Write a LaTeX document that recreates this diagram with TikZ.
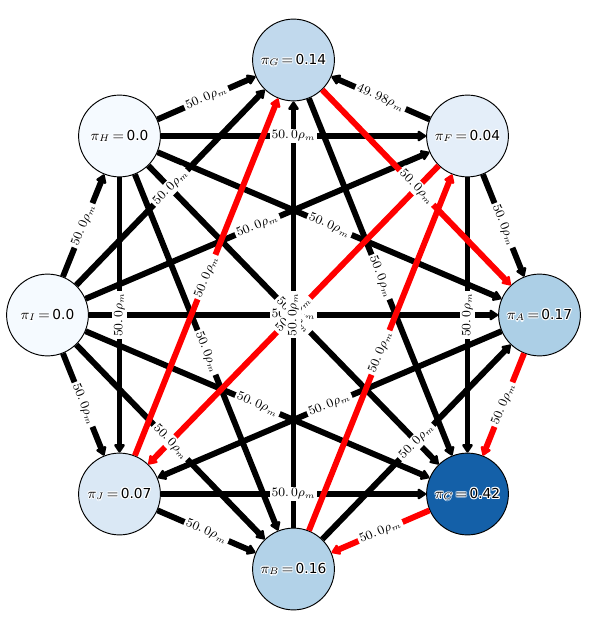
\documentclass[tikz,border=0pt]{standalone}
\usepackage{fontspec}
\setmainfont{DejaVu Sans}
\usetikzlibrary{arrows.meta}
\definecolor{pzero}{RGB}{245,250,255}
\definecolor{pF}{RGB}{228,238,249}
\definecolor{pJ}{RGB}{218,232,245}
\definecolor{pG}{RGB}{193,217,237}
\definecolor{pB}{RGB}{178,210,232}
\definecolor{pA}{RGB}{172,207,230}
\definecolor{pC}{RGB}{20,96,168}
% white outline round the node texts
\newcommand\halo[1]{%
\makebox[0pt][l]{\color{white}\hspace*{.7pt}#1}%
\makebox[0pt][l]{\color{white}\hspace*{-.7pt}#1}%
\makebox[0pt][l]{\color{white}\raisebox{.7pt}{#1}}%
\makebox[0pt][l]{\color{white}\raisebox{-.7pt}{#1}}%
\makebox[0pt][l]{\color{white}\hspace*{.5pt}\raisebox{.5pt}{#1}}%
\makebox[0pt][l]{\color{white}\hspace*{-.5pt}\raisebox{.5pt}{#1}}%
\makebox[0pt][l]{\color{white}\hspace*{.5pt}\raisebox{-.5pt}{#1}}%
\makebox[0pt][l]{\color{white}\hspace*{-.5pt}\raisebox{-.5pt}{#1}}%
#1}
\newcommand\rhol{$50.\,0\rho_m$}

\begin{document}
\begin{tikzpicture}[
x=0.022cm,y=-0.022cm,
pinode/.style={circle,draw=black,line width=0.6pt,minimum size=1.8cm,inner sep=0pt,
  font=\fontsize{8.6}{10}\selectfont},
blackedge/.style={line width=3.7pt,black,-{Triangle[length=6pt,width=7.5pt,round]}},
rededge/.style={blackedge,red},
rholabel/.style={fill=white,inner sep=1.2pt,sloped,midway,font=\fontsize{7.6}{9}\selectfont}
]
\useasboundingbox (0,0) rectangle (598,631);
\node[pinode,fill=pG] (G) at (293.5,60) {\halo{$\pi_G\,{=}\,$0.14}};
\node[pinode,fill=pF] (F) at (467.5,136) {\halo{$\pi_F\,{=}\,$0.04}};
\node[pinode,fill=pA] (A) at (539.5,315) {\halo{$\pi_A\,{=}\,$0.17}};
\node[pinode,fill=pC] (C) at (467.5,494) {\halo{$\pi_C\,{=}\,$0.42}};
\node[pinode,fill=pB] (B) at (293.5,569) {\halo{$\pi_B\,{=}\,$0.16}};
\node[pinode,fill=pJ] (J) at (119.5,494) {\halo{$\pi_J\,{=}\,$0.07}};
\node[pinode,fill=pzero] (I) at (47.5,315) {\halo{$\pi_I\,{=}\,$0.0}};
\node[pinode,fill=pzero] (H) at (119.5,136) {\halo{$\pi_H\,{=}\,$0.0}};

\foreach \s/\t in {I/H,I/G,I/F,I/A,I/C,I/B,I/J,H/G,H/F,H/A,H/C,H/B,H/J,G/C,F/G,F/A,F/C,A/J,J/C,J/B,B/G,B/A}
{
\draw[blackedge] (\s) -- (\t);
}
\foreach \s/\t in {G/A,A/C,C/B,B/F,F/J,J/G}
{
\draw[rededge] (\s) -- (\t);
}

% labels last, so they sit on top
\foreach \s/\t in {I/H,I/G,I/F,I/A,I/C,I/B,I/J,H/G,H/F,H/A,H/C,H/B,J/H,G/C,F/A,C/F,A/J,J/C,J/B,G/A,A/C,C/B,B/F,F/J,J/G,B/A,B/G}
{
\path (\s) -- node[rholabel] {\rhol} (\t);
}
\path (G) -- node[rholabel] {$49.\,98\rho_m$} (F);
\end{tikzpicture}
\end{document}
